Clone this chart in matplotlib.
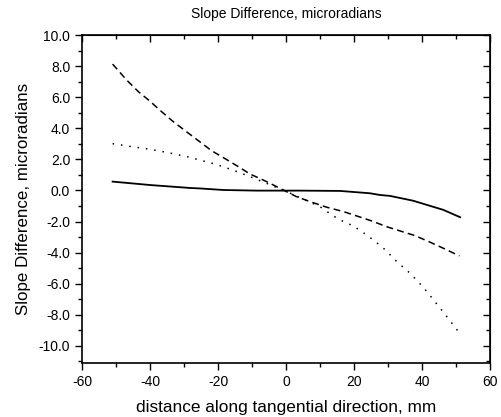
import numpy as np
import matplotlib
matplotlib.use("Agg")
import matplotlib.pyplot as plt
from matplotlib.ticker import MultipleLocator, FormatStrFormatter

plt.rcParams['font.family'] = ['Liberation Sans', 'DejaVu Sans']
plt.rcParams['axes.unicode_minus'] = False

# values (mm, microradians)
x_solid = [-51, -40, -28.2, -25.3, -18.4, -8.6, 4.1, 15.9, 24.7, 27.6, 30.6, 37.4, 46.3, 51.2]
y_solid = [0.57, 0.35, 0.16, 0.13, 0.03, -0.01, -0.01, -0.03, -0.18, -0.29, -0.35, -0.66, -1.25, -1.72]

x_dash = [-51, -46.9, -43.4, -40.2, -36.8, -33.4, -29.7, -26.3, -21.9, -18.4, -14.0, -10.6, -5.7,
          -1.8, 3.1, 7.1, 12.0, 16.9, 20.8, 25.2, 29.6, 33.5, 37.9, 42.4, 46.3, 51.0]
y_dash = [8.13, 7.11, 6.35, 5.78, 5.11, 4.47, 3.85, 3.29, 2.56, 2.11, 1.53, 1.06, 0.57,
          0.14, -0.4, -0.72, -1.08, -1.36, -1.64, -1.96, -2.33, -2.6, -2.9, -3.33, -3.72, -4.21]

x_dot = [-51, -45.4, -40, -34.6, -29, -26.3, -20.9, -15.7, -10.6, -5.7, 0, 5.0, 10.0, 13.9, 16.9,
         19.8, 23.7, 26.7, 29.1, 32.6, 36.5, 40.4, 43.8, 47.3, 50.7]
y_dot = [3.01, 2.82, 2.65, 2.43, 2.17, 2.01, 1.70, 1.32, 0.89, 0.46, -0.05, -0.55, -1.04, -1.64, -2.0,
         -2.28, -2.86, -3.36, -3.80, -4.58, -5.33, -6.23, -7.15, -8.11, -9.08]

fig = plt.figure(figsize=(5.01, 4.17), dpi=100)
ax = fig.add_axes([0.1637, 0.1295, 0.8143, 0.7865])

ax.plot(x_solid, y_solid, color='black', lw=1.3, ls='-')
ax.plot(x_dash, y_dash, color='black', lw=1.1, ls=(0, (4.5, 2.8)))
ax.plot(x_dot, y_dot, color='black', lw=1.1, ls=(0, (1, 4.5)))

ax.set_xlim(-60, 60)
ax.set_ylim(-11.1, 10)
ax.xaxis.set_major_locator(MultipleLocator(20))
ax.xaxis.set_minor_locator(MultipleLocator(10))
ax.yaxis.set_major_locator(MultipleLocator(2))
ax.yaxis.set_minor_locator(MultipleLocator(1))
ax.yaxis.set_major_formatter(FormatStrFormatter('%.1f'))
ax.tick_params(which='both', direction='out', labelsize=10, width=1)
ax.tick_params(which='major', length=5)
ax.tick_params(which='minor', length=3)

# mirrored ticks pointing inwards on top and right
top = ax.secondary_xaxis('top')
top.xaxis.set_major_locator(MultipleLocator(20))
top.xaxis.set_minor_locator(MultipleLocator(10))
top.tick_params(which='both', direction='in', labeltop=False, width=1)
top.tick_params(which='major', length=5)
top.tick_params(which='minor', length=3)
right = ax.secondary_yaxis('right')
right.yaxis.set_major_locator(MultipleLocator(2))
right.yaxis.set_minor_locator(MultipleLocator(1))
right.tick_params(which='both', direction='in', labelright=False, width=1)
right.tick_params(which='major', length=5)
right.tick_params(which='minor', length=3)

for s in ax.spines.values():
    s.set_linewidth(1.2)

ax.set_xlabel('distance along tangential direction, mm', fontsize=12.4, labelpad=8)
ax.set_ylabel('Slope Difference, microradians', fontsize=12.2)
ax.yaxis.set_label_coords(-0.125, 0.5)
ax.set_title('Slope Difference, microradians', fontsize=10, pad=12)

fig.savefig('out.png', dpi=100)
